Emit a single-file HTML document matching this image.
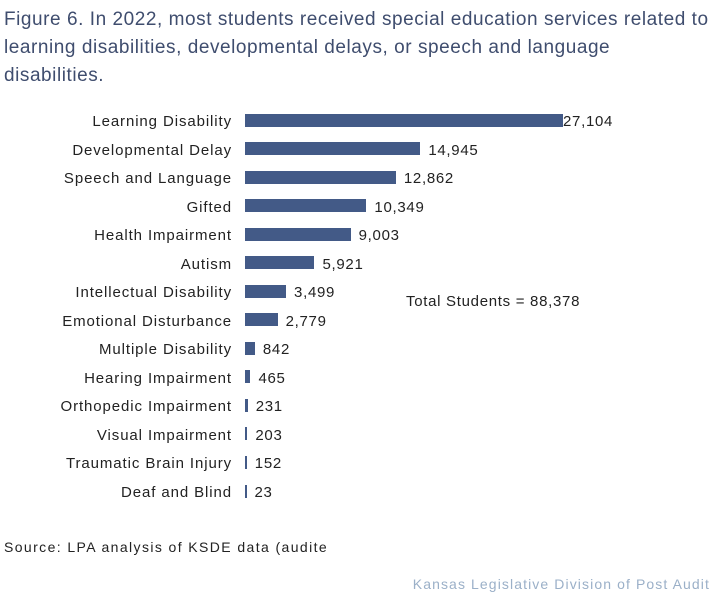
<!DOCTYPE html>
<html><head><style>
body{margin:0;width:716px;height:598px;background:#fff;font-family:"Liberation Sans",sans-serif;position:relative;overflow:hidden}
.t{position:absolute;left:4px;top:6px;width:712px;font-size:19px;line-height:28px;color:#3f4d6e;letter-spacing:0.55px;white-space:nowrap}
.l{position:absolute;right:484px;font-size:15px;letter-spacing:0.9px;color:#222;white-space:nowrap}
.b{position:absolute;left:245px;height:13px;background:#435a87}
.v{position:absolute;font-size:15px;letter-spacing:0.7px;color:#222}
</style></head><body>
<div class="t">Figure 6. In 2022, most students received special education services related to<br>learning disabilities, developmental delays, or speech and language<br>disabilities.</div>
<div id="c"></div>
<div class="v" style="left:406px;top:293px">Total Students = 88,378</div>
<div style="position:absolute;left:4px;top:539px;font-size:14px;letter-spacing:1.4px;color:#222">Source: LPA analysis of KSDE data (audite</div>
<div style="position:absolute;right:6px;top:576px;font-size:14px;letter-spacing:1.1px;color:#9bb0c8">Kansas Legislative Division of Post Audit</div>
<script>
var d=[["Learning Disability",27104],["Developmental Delay",14945],["Speech and Language",12862],["Gifted",10349],["Health Impairment",9003],["Autism",5921],["Intellectual Disability",3499],["Emotional Disturbance",2779],["Multiple Disability",842],["Hearing Impairment",465],["Orthopedic Impairment",231],["Visual Impairment",203],["Traumatic Brain Injury",152],["Deaf and Blind",23]];
var h="";d.forEach(function(r,i){var y=120+i*28.54;var w=Math.max(1.5,r[1]*318/27104);
h+='<div class="l" style="top:'+(y-7)+'px">'+r[0]+'</div><div class="b" style="top:'+(y-6.5)+'px;width:'+w+'px"></div><div class="v" style="top:'+(y-7)+'px;left:'+(245+w+(i==0?0:8))+'px">'+r[1].toLocaleString("en-US")+'</div>';});
document.getElementById("c").innerHTML=h;
</script>
</body></html>
